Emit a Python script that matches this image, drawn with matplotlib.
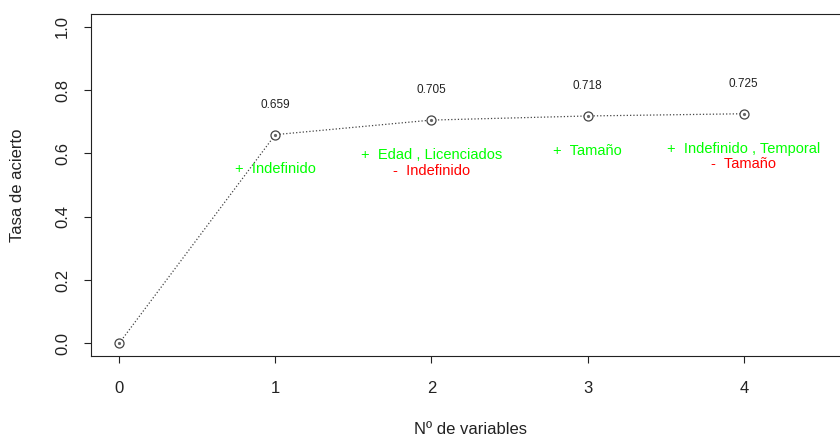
import matplotlib
matplotlib.use("Agg")
import matplotlib.pyplot as plt

plt.rcParams['font.family'] = ['Liberation Sans', 'DejaVu Sans']

# accuracy by number of selected variables
n_vars = [0, 1, 2, 3, 4]
accuracy = [0.0, 0.659, 0.705, 0.718, 0.725]

# variables added / removed at each step
added = ["", "+  Indefinido", "+  Edad , Licenciados", "+  Tamaño", "+  Indefinido , Temporal"]
removed = ["", "", "-  Indefinido", "", "-  Tamaño"]

fig = plt.figure(figsize=(8.4, 4.38), dpi=100)
ax = fig.add_axes([91 / 840, 82 / 438, 759 / 840, 342 / 438])

ax.plot(n_vars, accuracy, color='#444444', linestyle=':', linewidth=0.9, zorder=1)
ax.plot(n_vars, accuracy, linestyle='none', marker='o', markersize=6.5,
        markerfacecolor='white', markeredgecolor='#444444', markeredgewidth=0.9, zorder=2)
ax.plot(n_vars, accuracy, linestyle='none', marker='o', markersize=1.3,
        color='#666666', zorder=3)

for x, y, a, r in zip(n_vars, accuracy, added, removed):
    if x == 0:
        continue
    ax.text(x, y + 0.095, f"{y:.3f}", ha='center', va='center', fontsize=8.5, color='#222222')
    ax.text(x, y - 0.11, a, ha='center', va='center', fontsize=10.5, color='#00FF00')
    if r:
        ax.text(x, y - 0.16, r, ha='center', va='center', fontsize=10.5, color='#FF0000')

ax.set_xlim(-0.18, 4.68)
ax.set_ylim(-0.04, 1.04)
ax.set_xticks([0, 1, 2, 3, 4])
ax.set_yticks([0.0, 0.2, 0.4, 0.6, 0.8, 1.0])
ax.set_yticklabels(["0.0", "0.2", "0.4", "0.6", "0.8", "1.0"], rotation=90, va='center')
ax.tick_params(axis='both', direction='out', length=5, width=0.8, labelsize=12,
               colors='#222222')
ax.tick_params(axis='x', pad=13)
ax.tick_params(axis='y', pad=10)
for s in ax.spines.values():
    s.set_linewidth(0.8)
    s.set_color('#222222')

ax.set_xlabel("Nº de variables", fontsize=12, labelpad=19, color='#222222')
ax.set_ylabel("Tasa de acierto", fontsize=12, labelpad=22, color='#222222')

fig.savefig("out.png", dpi=100)
